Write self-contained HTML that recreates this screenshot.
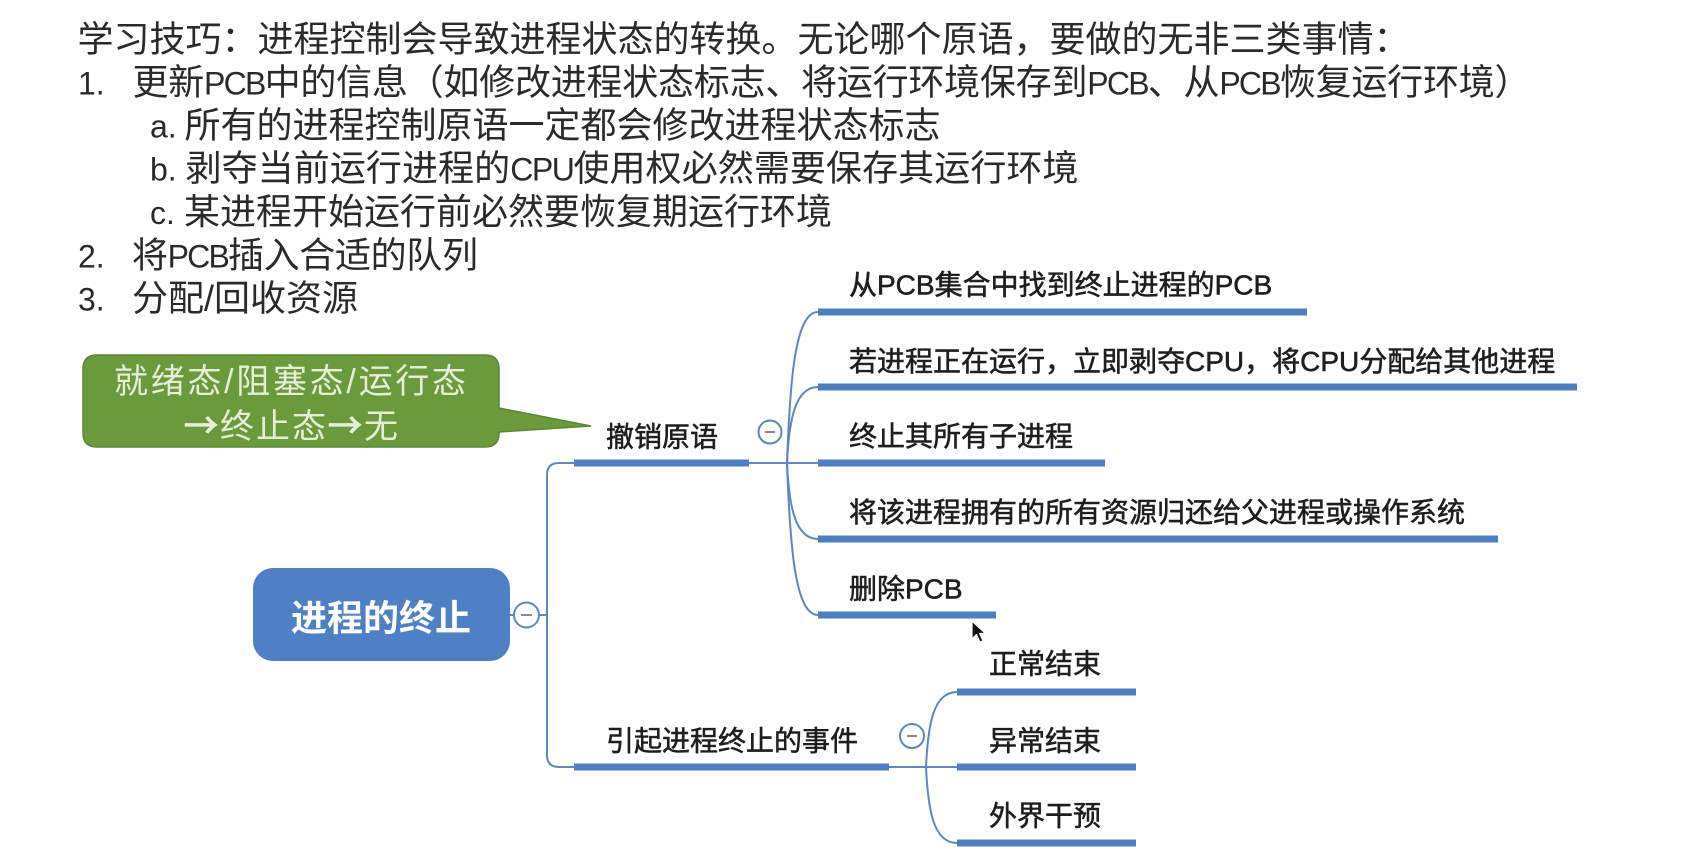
<!DOCTYPE html>
<html>
<head>
<meta charset="utf-8">
<style>
  html,body{margin:0;padding:0;background:#fff;}
  body{width:1681px;height:857px;overflow:hidden;}
  svg{display:block;}
  .t{font-family:"Liberation Sans","Noto Sans CJK SC",sans-serif;font-size:36px;fill:#2a2a2a;}
  .lat{font-family:"Liberation Sans",sans-serif;font-size:32px;}
  .m{font-family:"Liberation Sans","Noto Sans CJK SC",sans-serif;font-size:28px;fill:#1e1e1e;stroke:#1e1e1e;stroke-width:0.55px;}
  .g{font-family:"Liberation Sans","Noto Sans CJK SC",sans-serif;font-size:34px;fill:#e6eed8;}
  .arr{font-family:"Noto Sans CJK SC","DejaVu Sans",sans-serif;font-size:34px;stroke:#e6eed8;stroke-width:1.2px;}
  .c{font-family:"Liberation Sans","Noto Sans CJK SC",sans-serif;font-size:36px;font-weight:bold;fill:#ffffff;}
</style>
</head>
<body>
<svg width="1681" height="857" viewBox="0 0 1681 857" xmlns="http://www.w3.org/2000/svg">
  <rect width="1681" height="857" fill="#ffffff"/>

  <!-- Top text -->
  <text class="t" x="77.5" y="51.7">学习技巧：进程控制会导致进程状态的转换。无论哪个原语，要做的无非三类事情：</text>

  <text class="t lat" x="78" y="94.7">1.</text>
  <text class="t" x="132.5" y="94.7" textLength="1398" lengthAdjust="spacing">更新<tspan class="lat" letter-spacing="-1.5">PCB</tspan>中的信息（如修改进程状态标志、将运行环境保存到<tspan class="lat" letter-spacing="-1.5">PCB</tspan>、从<tspan class="lat" letter-spacing="-1.5">PCB</tspan>恢复运行环境）</text>

  <text class="t lat" x="150" y="137.7">a.</text>
  <text class="t" x="184.5" y="137.7">所有的进程控制原语一定都会修改进程状态标志</text>

  <text class="t lat" x="150" y="180.7">b.</text>
  <text class="t" x="185.5" y="180.7" textLength="893" lengthAdjust="spacing">剥夺当前运行进程的<tspan class="lat" letter-spacing="-1.5">CPU</tspan>使用权必然需要保存其运行环境</text>

  <text class="t lat" x="150" y="224.2">c.</text>
  <text class="t" x="184" y="224.2">某进程开始运行前必然要恢复期运行环境</text>

  <text class="t lat" x="78" y="267.7">2.</text>
  <text class="t" x="132" y="267.7" textLength="346" lengthAdjust="spacing">将<tspan class="lat" letter-spacing="-1.5">PCB</tspan>插入合适的队列</text>

  <text class="t lat" x="78" y="310.7">3.</text>
  <text class="t" x="132" y="310.7">分配/回收资源</text>

  <!-- Green callout -->
  <path d="M97,355 H485 Q499,355 499,369 V408 L591,426 L499,432 V433 Q499,447 485,447 H97 Q83,447 83,433 V369 Q83,355 97,355 Z" fill="#6b9a3d" stroke="#5b8731" stroke-width="1.5"/>
  <text class="g" x="114" y="393" textLength="352" lengthAdjust="spacing">就绪态/阻塞态/运行态</text>
  <text class="g" x="184" y="438" textLength="214" lengthAdjust="spacing"><tspan class="arr">→</tspan>终止态<tspan class="arr">→</tspan>无</text>

  <!-- Central node -->
  <rect x="253" y="568" width="257" height="93" rx="20" ry="20" fill="#4f80c5"/>
  <text class="c" x="291" y="630.5">进程的终止</text>

  <!-- connectors -->
  <g stroke="#5c87c5" stroke-width="2" fill="none">
    <line x1="510" y1="615" x2="514" y2="615"/>
    <line x1="539" y1="615" x2="547" y2="615"/>
    <path d="M574,463 H559 Q547,463 547,475 V755 Q547,767 559,767 H574"/>
    <line x1="749" y1="463" x2="818" y2="463"/>
    <path d="M787,463 C790,380 795,312 818,312"/>
    <path d="M787,463 C789,420 795,387 818,387"/>
    <path d="M787,463 C789,506 795,539 818,539"/>
    <path d="M787,463 C790,546 795,615 818,615"/>
    <line x1="889" y1="767" x2="957" y2="767"/>
    <path d="M926,767 C928,725 933,692 957,692"/>
    <path d="M926,767 C928,809 933,843 957,843"/>
  </g>

  <!-- collapse circles -->
  <g stroke="#5c87c5" stroke-width="2" fill="#ffffff">
    <circle cx="526.5" cy="615" r="12.5"/>
    <circle cx="770" cy="432" r="11.5"/>
    <circle cx="912" cy="736" r="12"/>
  </g>
  <g stroke="#8c8c8c" stroke-width="2">
    <line x1="521" y1="615" x2="532" y2="615"/>
    <line x1="765" y1="432" x2="775" y2="432"/>
    <line x1="907" y1="736" x2="917" y2="736"/>
  </g>

  <!-- bars -->
  <g fill="#4d7ec3">
    <rect x="574" y="459.5" width="175" height="7"/>
    <rect x="574" y="763.5" width="315" height="7"/>
    <rect x="818" y="308.5" width="489" height="7"/>
    <rect x="818" y="383.5" width="759" height="7"/>
    <rect x="818" y="459.5" width="287" height="7"/>
    <rect x="818" y="535.5" width="680" height="7"/>
    <rect x="818" y="611.5" width="178" height="7"/>
    <rect x="957" y="688.5" width="179" height="7"/>
    <rect x="957" y="763.5" width="179" height="7"/>
    <rect x="957" y="839.5" width="179" height="7"/>
  </g>

  <!-- mind map labels -->
  <text class="m" x="606" y="446.6">撤销原语</text>
  <text class="m" x="606" y="750.6">引起进程终止的事件</text>

  <text class="m" x="849" y="294.4">从PCB集合中找到终止进程的PCB</text>
  <text class="m" x="849" y="371">若进程正在运行，立即剥夺CPU，将CPU分配给其他进程</text>
  <text class="m" x="849" y="446">终止其所有子进程</text>
  <text class="m" x="849" y="522">将该进程拥有的所有资源归还给父进程或操作系统</text>
  <text class="m" x="849" y="598.6">删除PCB</text>

  <text class="m" x="989" y="673.6">正常结束</text>
  <text class="m" x="989" y="750.6">异常结束</text>
  <text class="m" x="989" y="825.6">外界干预</text>

  <!-- mouse cursor -->
  <path d="M972,621 L972,639 L976.5,634.5 L980,642 L983,640.8 L979.6,633.5 L985.5,633.5 Z" fill="#111" stroke="#fff" stroke-width="1.2" stroke-linejoin="round"/>
</svg>
</body>
</html>
